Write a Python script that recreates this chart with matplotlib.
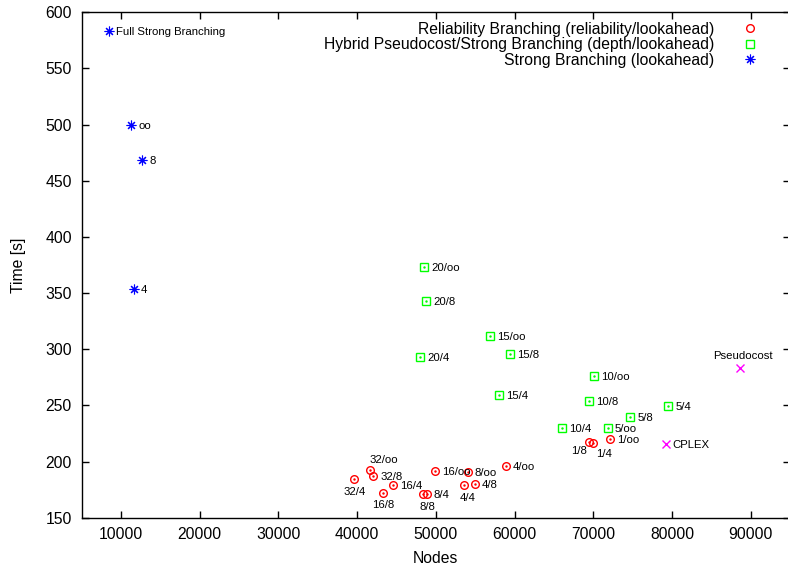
import matplotlib
matplotlib.use("Agg")
import matplotlib.pyplot as plt

plt.rcParams['font.family'] = ['Liberation Sans', 'DejaVu Sans']

# Reliability branching (reliability/lookahead)
rel_labels = ['32/4', '32/oo', '32/8', '16/4', '16/8', '16/oo', '8/4', '8/8',
              '8/oo', '4/4', '4/8', '4/oo', '1/oo', '1/8', '1/4']
rel_nodes = [39640, 41600, 42050, 44600, 43290, 49860, 48840, 48370,
             54090, 53580, 54940, 58880, 72160, 69500, 70010]
rel_time = [184.2, 192.7, 187.1, 179.4, 172.0, 191.8, 171.4, 171.4,
            190.4, 178.8, 179.7, 196.3, 220.1, 217.1, 216.5]

# Hybrid pseudocost/strong branching (depth/lookahead)
hyb_labels = ['20/oo', '20/8', '15/oo', '20/4', '15/8', '10/oo', '15/4',
              '10/8', '5/4', '5/8', '10/4', '5/oo']
hyb_nodes = [48530, 48750, 56880, 47990, 59380, 70130, 58030,
             69500, 79540, 74710, 66030, 71830]
hyb_time = [373.5, 343.0, 311.8, 293.4, 295.5, 276.2, 259.0,
            253.9, 249.5, 239.9, 229.6, 229.6]

# Strong branching (lookahead)
sb_labels = ['Full Strong Branching', 'oo', '8', '4']
sb_nodes = [8514, 11310, 12710, 11650]
sb_time = [583.6, 500.0, 468.2, 353.4]

# other solvers
other_labels = ['Pseudocost', 'CPLEX']
other_nodes = [88680, 79200]
other_time = [283.6, 215.6]

# label placement (points offset, ha) - default is right of the point
special = {
    '32/4': (0, -9.5, 'center'),
    '32/oo': (0, 7, 'left'),
    '16/8': (0, -8.6, 'center'),
    '8/8': (3.4, -9.4, 'center'),
    '4/4': (2.4, -9.4, 'center'),
    '1/8': (-7.2, -6.1, 'center'),
    '1/4': (7.9, -7.9, 'center'),
    'Pseudocost': (2.2, 8.4, 'center'),
}

fig = plt.figure(figsize=(7.88, 5.65), dpi=100)
ax = fig.add_axes([81.7 / 788, 1 - 517.7 / 565, (790 - 81.7) / 788, (517.7 - 12.3) / 565])

ax.plot(rel_nodes, rel_time, ls='none', marker='o', ms=5.5, mfc='none', mec='#ff0000', mew=1,
        label='Reliability Branching (reliability/lookahead)')
ax.plot(rel_nodes, rel_time, ls='none', marker='.', ms=1.5, color='#ff0000')
ax.plot(hyb_nodes, hyb_time, ls='none', marker='s', ms=5.2, mfc='none', mec='#00ff00', mew=1,
        label='Hybrid Pseudocost/Strong Branching (depth/lookahead)')
ax.plot(hyb_nodes, hyb_time, ls='none', marker='.', ms=1.5, color='#00ff00')
ax.plot(sb_nodes, sb_time, ls='none', marker=(8, 2, 0), ms=7, color='#0000ff', mew=0.8,
        label='Strong Branching (lookahead)')
ax.plot(other_nodes, other_time, ls='none', marker='x', ms=6, color='#ff00ff', mew=1)

for labels, xs, ys in [(rel_labels, rel_nodes, rel_time), (hyb_labels, hyb_nodes, hyb_time),
                       (sb_labels, sb_nodes, sb_time), (other_labels, other_nodes, other_time)]:
    for lab, x, y in zip(labels, xs, ys):
        dx, dy, ha = special.get(lab, (5, -0.7, 'left'))
        ax.annotate(lab, (x, y), xytext=(dx, dy), textcoords='offset points',
                    ha=ha, va='center', fontsize=8.2)

ax.set_xlim(5000, 95000)
ax.set_ylim(150, 600)
ax.set_xticks(range(10000, 95000, 10000))
ax.set_yticks(range(150, 601, 50))
ax.tick_params(direction='in', top=True, right=True, length=5, width=1, labelsize=11.3, pad=7)
for s in ax.spines.values():
    s.set_linewidth(1)
ax.set_xlabel('Nodes', fontsize=11.3, labelpad=6)
ax.set_ylabel('Time [s]', fontsize=11.3, labelpad=14)

leg = ax.legend(loc='upper right', bbox_to_anchor=(0.965, 0.981), markerfirst=False, frameon=False,
                fontsize=11.3, handlelength=2, handletextpad=1.25, labelspacing=0.02,
                borderaxespad=0, borderpad=0)

fig.savefig('out.png', dpi=100)
